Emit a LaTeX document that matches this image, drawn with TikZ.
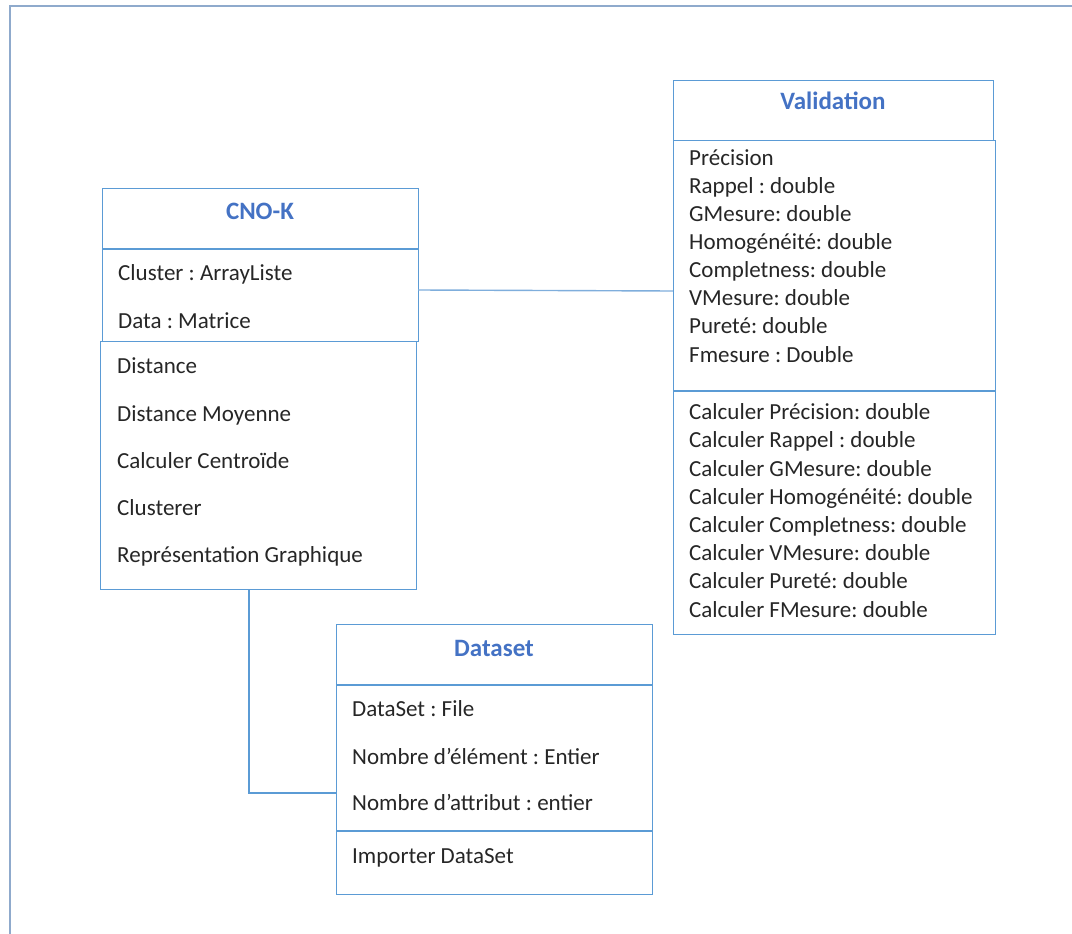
\documentclass[tikz,border=0pt]{standalone}
\usepackage{fontspec}
\setmainfont{Carlito}
\frenchspacing
\definecolor{boxblue}{HTML}{5B9BD5}
\definecolor{titleblue}{HTML}{4472C4}
\definecolor{frameblue}{HTML}{8FAACC}
\definecolor{txt}{HTML}{262626}
\definecolor{linkblue}{HTML}{7FAEDC}
\tikzset{
  box/.style={draw=boxblue, line width=1.4pt, rectangle, anchor=north west, inner sep=0pt},
  ctitle/.style={font=\fontsize{25}{28}\selectfont\bfseries, text=titleblue, anchor=center, inner sep=0pt, text height=17pt, text depth=3pt},
  item/.style={font=\fontsize{23}{26}\selectfont\frenchspacing, text=txt, anchor=west, inner sep=0pt, text height=19pt, text depth=5pt},
  sep/.style={draw=boxblue, line width=1.4pt},
  link/.style={draw=linkblue, line width=1.4pt},
  frame/.style={draw=frameblue, line width=2pt}
}
\begin{document}
\begin{tikzpicture}[x=1pt,y=-1pt]
\useasboundingbox (0,0) rectangle (1072,934);
\coordinate (fr1) at (9.5,934);
\coordinate (fr2) at (9.5,6.5);
\coordinate (fr3) at (1072,6.5);
\draw[frame] (fr1) -- (fr2) -- (fr3);

% CNO-K
\node[box, minimum width=316pt, minimum height=153pt] (cnoA) at (102,188) {};
\node[box, minimum width=316pt, minimum height=248pt] (cnoB) at (100,341) {};
\draw[sep] (102,249) coordinate (cs1) -- (418,249) coordinate (cs2);
\node[ctitle] (cnoT) at (260,212) {CNO-K};
\node[item] (c1) at (118,273) {Cluster : ArrayListe};
\node[item] (c2) at (118,321) {Data : Matrice};
\node[item] (c3) at (117,366) {Distance};
\node[item] (c4) at (117,414) {Distance Moyenne};
\node[item] (c5) at (117,461) {Calculer Centroïde};
\node[item] (c6) at (117,508) {Clusterer};
\node[item] (c7) at (117,555) {Représentation Graphique};

% Validation
\node[box, minimum width=320pt, minimum height=60pt] (valH) at (673,80) {};
\node[box, minimum width=322pt, minimum height=494pt] (valB) at (673,140) {};
\draw[sep] (673,391) coordinate (vs1) -- (995,391) coordinate (vs2);
\node[ctitle] (valT) at (833,103) {Validation};
\node[item] (v1) at (689,158) {Précision};
\node[item] (v2) at (689,186) {Rappel : double};
\node[item] (v3) at (689,214) {GMesure: double};
\node[item] (v4) at (689,242) {Homogénéité: double};
\node[item] (v5) at (689,270) {Completness: double};
\node[item] (v6) at (689,298) {VMesure: double};
\node[item] (v7) at (689,326) {Pureté: double};
\node[item] (v8) at (689,355) {Fmesure : Double};
\node[item] (m1) at (689,412) {Calculer Précision: double};
\node[item] (m2) at (689,440) {Calculer Rappel : double};
\node[item] (m3) at (689,469) {Calculer GMesure: double};
\node[item] (m4) at (689,497) {Calculer Homogénéité: double};
\node[item] (m5) at (689,525) {Calculer Completness: double};
\node[item] (m6) at (689,553) {Calculer VMesure: double};
\node[item] (m7) at (689,581) {Calculer Pureté: double};
\node[item] (m8) at (689,610) {Calculer FMesure: double};

% Dataset
\node[box, minimum width=316pt, minimum height=270pt] (ds) at (336,624) {};
\draw[sep] (336,685) coordinate (ds1) -- (652,685) coordinate (ds2);
\draw[sep] (336,831) coordinate (ds3) -- (652,831) coordinate (ds4);
\node[ctitle] (dsT) at (494,649) {Dataset};
\node[item] (d1) at (352,709) {DataSet : File};
\node[item] (d2) at (352,757) {Nombre d’élément : Entier};
\node[item] (d3) at (352,803) {Nombre d’attribut : entier};
\node[item] (d4) at (352,856) {Importer DataSet};

% connectors
\coordinate (l1) at (418,290);
\coordinate (l2) at (673,291);
\draw[link] (l1) -- (l2);
\coordinate (k1) at (249,589);
\coordinate (k2) at (249,793);
\coordinate (k3) at (336,793);
\draw[sep] (k1) -- (k2) -- (k3);
\end{tikzpicture}
\end{document}
